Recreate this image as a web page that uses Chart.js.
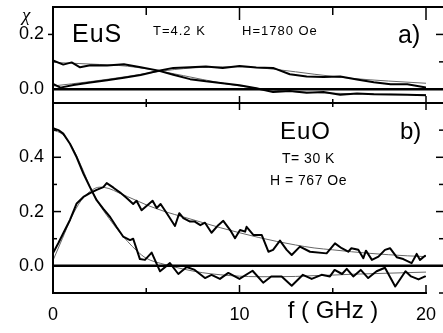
<!DOCTYPE html>
<html><head><meta charset="utf-8">
<script src="https://cdn.jsdelivr.net/npm/chart.js@4"></script>
<style>
html,body{margin:0;padding:0;background:#fff;width:443px;height:333px;overflow:hidden}
canvas{position:absolute;left:0;top:0}
</style></head>
<body>
<canvas id="c1" width="443" height="333"></canvas>
<canvas id="c2" width="443" height="333"></canvas>
<script>
// ---- Panel a) EuS ----
const euSDecF   = [0, 0.55, 1.0, 1.45, 2.0, 2.9, 3.8, 4.7, 5.6, 6.45, 7.35, 8.2, 9.1, 10.0, 10.9, 11.8, 12.7, 13.6, 14.5, 15.4, 16.3, 17.2, 18.1, 19.0, 20.0];
const euSDecChi = [0.105, 0.09, 0.098, 0.08, 0.088, 0.087, 0.091, 0.08, 0.069, 0.053, 0.037, 0.029, 0.022, 0.015, 0.004, -0.01, -0.006, -0.013, -0.01, -0.02, -0.015, -0.018, -0.019, -0.02, -0.022];
const euSIncF   = [0, 0.4, 1.1, 2.0, 2.9, 3.8, 4.7, 5.6, 6.45, 7.35, 8.2, 9.1, 10.0, 10.9, 11.8, 12.7, 13.6, 14.5, 15.4, 16.3, 17.2, 18.1, 19.0, 20.0];
const euSIncChi = [0.02, 0.006, 0.016, 0.025, 0.033, 0.042, 0.052, 0.067, 0.078, 0.08, 0.083, 0.078, 0.085, 0.079, 0.078, 0.055, 0.047, 0.045, 0.047, 0.036, 0.026, 0.018, 0.018, 0.006];
const euSFitF    = [0, 2, 4, 6, 8, 10, 12, 14, 16, 18, 20];
const euSDecFit  = [0.098, 0.092, 0.084, 0.063, 0.036, 0.012, -0.004, -0.012, -0.016, -0.018, -0.02];
const euSIncFit  = [0.012, 0.028, 0.047, 0.068, 0.08, 0.082, 0.072, 0.055, 0.04, 0.03, 0.022];

// ---- Panel b) EuO ----
const euODecF   = [0, 0.29, 0.55, 0.91, 1.27, 1.63, 1.98, 2.34, 2.7, 3.06, 3.4, 3.76, 4.13, 4.3, 4.66, 4.93, 5.29, 5.74, 6.27, 6.72, 7.17, 7.6, 8.15, 8.5, 8.95, 9.4, 10.0, 10.7, 11.27, 11.7, 12.26, 12.8, 13.4, 13.87, 14.4, 14.85, 15.1, 15.5, 15.75, 16.1, 16.5, 16.9, 17.35, 17.8, 18.35, 18.9, 19.2, 19.6, 19.95];
const euODecChi = [0.507, 0.5, 0.487, 0.45, 0.40, 0.34, 0.29, 0.242, 0.21, 0.18, 0.144, 0.108, 0.095, 0.1, 0.025, 0.022, 0.049, -0.02, 0.01, -0.03, -0.004, -0.015, -0.045, -0.033, -0.048, -0.026, -0.048, -0.018, -0.062, -0.039, -0.039, -0.073, -0.033, -0.048, -0.033, -0.039, -0.015, -0.03, -0.011, -0.039, -0.015, -0.045, -0.02, -0.007, -0.076, -0.02, -0.039, -0.05, -0.039];
const euOPeakF   = [0, 0.29, 0.55, 0.91, 1.27, 1.63, 1.98, 2.34, 2.7, 2.88, 3.24, 3.6, 3.95, 4.3, 4.48, 4.75, 5.34, 5.56, 5.77, 6.1, 6.54, 6.77, 6.99, 7.35, 7.6, 7.9, 8.15, 8.5, 8.86, 9.13, 9.5, 9.76, 10.03, 10.3, 10.38, 10.74, 11.19, 11.55, 11.8, 12.17, 12.53, 12.8, 13.24, 13.78, 14.67, 15.12, 15.48, 15.83, 16.0, 16.37, 16.64, 16.78, 17.1, 17.45, 17.8, 18.07, 18.43, 18.78, 19.23, 19.5, 19.68, 19.95];
const euOPeakChi = [0.047, 0.084, 0.12, 0.169, 0.23, 0.254, 0.268, 0.28, 0.29, 0.305, 0.288, 0.27, 0.25, 0.228, 0.24, 0.205, 0.24, 0.213, 0.228, 0.194, 0.147, 0.194, 0.176, 0.163, 0.163, 0.15, 0.159, 0.122, 0.15, 0.166, 0.132, 0.102, 0.132, 0.126, 0.144, 0.114, 0.114, 0.052, 0.059, 0.093, 0.059, 0.04, 0.071, 0.052, 0.046, 0.083, 0.065, 0.052, 0.065, 0.059, 0.028, 0.056, 0.022, 0.034, 0.059, 0.065, 0.032, 0.025, 0.01, 0.044, 0.022, 0.037];
const euOFitF    = [0, 0.5, 1, 1.5, 2, 2.5, 3, 3.5, 4, 4.5, 5, 6, 7, 8, 9, 10, 11, 12, 13, 14, 15, 16, 17, 18, 19, 20];
const euODecFit  = [0.5, 0.485, 0.44, 0.37, 0.29, 0.225, 0.175, 0.13, 0.09, 0.055, 0.028, 0.005, -0.012, -0.025, -0.033, -0.038, -0.04, -0.04, -0.039, -0.036, -0.034, -0.031, -0.029, -0.027, -0.025, -0.023];
const euOPeakFit = [0.02, 0.1, 0.18, 0.24, 0.275, 0.29, 0.285, 0.27, 0.255, 0.24, 0.225, 0.2, 0.18, 0.16, 0.14, 0.122, 0.105, 0.09, 0.077, 0.066, 0.059, 0.052, 0.046, 0.041, 0.037, 0.034];

// ---- ticks ----
const xTickLabels   = [0, 10, 20];
const xMajorTicks   = [10, 20];
const xMinorTicks   = [5, 15];
const yTicksA       = [0, 0.2];
const yMinorA       = [0.1];
const yTicksB       = [0, 0.2, 0.4];
const yMinorB       = [-0.1, 0.1, 0.3, 0.5];

const FONT = "'Liberation Sans', Arial, sans-serif";
const pts = (xs, ys) => xs.map((x, i) => ({x, y: ys[i]}));

function dataDs(xs, ys) {
  return {data: pts(xs, ys), borderColor: '#000', borderWidth: 2, pointRadius: 0,
          tension: 0, borderJoinStyle: 'round', borderCapStyle: 'round', order: 0};
}
function fitDs(xs, ys) {
  return {data: pts(xs, ys), borderColor: '#666', borderWidth: 1, pointRadius: 0,
          cubicInterpolationMode: 'monotone', order: 1};
}

function line(ctx, x1, y1, x2, y2, w) {
  ctx.beginPath(); ctx.lineWidth = w; ctx.strokeStyle = '#000';
  ctx.moveTo(x1, y1); ctx.lineTo(x2, y2); ctx.stroke();
}
function text(ctx, s, x, y, size, opts = {}) {
  ctx.save();
  ctx.fillStyle = '#000';
  ctx.font = (opts.style || '') + ' ' + size + 'px ' + (opts.family || FONT);
  ctx.textAlign = opts.align || 'left';
  ctx.textBaseline = 'alphabetic';
  if (opts.ls) ctx.letterSpacing = opts.ls + 'px';
  ctx.fillText(s, x, y);
  ctx.restore();
}

function yScaleOpts(min, max, ticks) {
  return {
    type: 'linear', position: 'left', min, max,
    grid: {display: false, drawTicks: false}, border: {display: false},
    ticks: {color: '#000', font: {family: FONT, size: 18}, padding: 9,
            callback: v => Number(v).toFixed(1)},
    afterBuildTicks: s => { s.ticks = ticks.map(v => ({value: v})); },
    afterFit: s => { s.width = 53; s.paddingTop = 0; s.paddingBottom = 0; }
  };
}

const W = 443;

// ---------- Chart a) ----------
const deco1 = {
  id: 'deco1',
  afterDraw(chart) {
    const {ctx, chartArea: a, scales: {x, y}} = chart;
    ctx.save();
    ctx.lineCap = 'butt';
    line(ctx, a.left, a.top, W, a.top, 2);            // top border
    line(ctx, a.left, a.top - 1, a.left, a.bottom, 2); // left border
    line(ctx, a.left, y.getPixelForValue(0), W, y.getPixelForValue(0), 2.5);
    line(ctx, a.left, a.bottom, W, a.bottom, 2);      // lower border
    xMajorTicks.forEach(v => { const p = x.getPixelForValue(v);
      line(ctx, p, a.top, p, a.top + 13, 1.5);
      line(ctx, p, a.bottom - 7, p, a.bottom + 7, 1.5); });
    xMinorTicks.forEach(v => { const p = x.getPixelForValue(v);
      line(ctx, p, a.top, p, a.top + 8, 1.5);
      line(ctx, p, a.bottom - 4, p, a.bottom + 4, 1.5); });
    yTicksA.forEach(v => { if (v === 0) return; const p = y.getPixelForValue(v);
      line(ctx, a.left - 5, p, a.left, p, 1.5);
      line(ctx, W - 7, p, W, p, 1.5); });
    yMinorA.forEach(v => { const p = y.getPixelForValue(v);
      line(ctx, W - 4, p, W, p, 1.5); });
    text(ctx, 'χ', 22, 21, 19, {style: 'italic', family: "'Liberation Serif', serif"});
    text(ctx, 'EuS', 72, 42, 25, {ls: 1});
    text(ctx, 'T=4.2 K', 153, 35, 13, {ls: 1});
    text(ctx, 'H=1780 Oe', 242, 35, 13, {ls: 1});
    text(ctx, 'a)', 398, 43, 25);
    ctx.restore();
  }
};

new Chart(document.getElementById('c1'), {
  type: 'line',
  data: {datasets: [
    dataDs(euSDecF, euSDecChi), dataDs(euSIncF, euSIncChi),
    fitDs(euSFitF, euSDecFit), fitDs(euSFitF, euSIncFit)
  ]},
  options: {
    responsive: false, animation: false, devicePixelRatio: 1,
    layout: {padding: {left: 0, top: 7, right: 17, bottom: 230}},
    plugins: {legend: {display: false}, tooltip: {enabled: false}},
    scales: {
      x: {type: 'linear', min: 0, max: 20, display: false},
      y: yScaleOpts(-0.05, 0.3, yTicksA)
    }
  },
  plugins: [deco1]
});

// ---------- Chart b) ----------
const deco2 = {
  id: 'deco2',
  afterDraw(chart) {
    const {ctx, chartArea: a, scales: {x, y}} = chart;
    ctx.save();
    ctx.lineCap = 'butt';
    line(ctx, a.left, a.top, a.left, a.bottom + 1, 2);     // left border
    line(ctx, a.left, y.getPixelForValue(0), W, y.getPixelForValue(0), 2.5);
    line(ctx, a.left, a.bottom, a.right + 1, a.bottom, 2);  // bottom axis
    xMajorTicks.forEach(v => { const p = x.getPixelForValue(v);
      line(ctx, p, a.bottom - 8, p, a.bottom, 1.5); });
    xMinorTicks.forEach(v => { const p = x.getPixelForValue(v);
      line(ctx, p, a.bottom - 5, p, a.bottom, 1.5); });
    yTicksB.forEach(v => { if (v === 0) return; const p = y.getPixelForValue(v);
      line(ctx, a.left, p, a.left + 8, p, 1.5);
      line(ctx, W - 7, p, W, p, 1.5); });
    yMinorB.forEach(v => { const p = y.getPixelForValue(v);
      if (v > -0.1) line(ctx, a.left, p, a.left + 4, p, 1.5);
      line(ctx, W - 4, p, W, p, 1.5); });
    text(ctx, 'EuO', 280, 139, 24, {ls: 1});
    text(ctx, 'b)', 400, 139, 24);
    text(ctx, 'T= 30 K', 282, 163, 14, {ls: 0.5});
    text(ctx, 'H = 767 Oe', 270, 185, 14, {ls: 0.5});
    text(ctx, 'f ( GHz )', 333, 318, 24, {align: 'center'});
    ctx.restore();
  }
};

new Chart(document.getElementById('c2'), {
  type: 'line',
  data: {datasets: [
    dataDs(euODecF, euODecChi), dataDs(euOPeakF, euOPeakChi),
    fitDs(euOFitF, euODecFit), fitDs(euOFitF, euOPeakFit)
  ]},
  options: {
    responsive: false, animation: false, devicePixelRatio: 1,
    layout: {padding: {left: 0, top: 103, right: 17, bottom: 0}},
    plugins: {legend: {display: false}, tooltip: {enabled: false}},
    scales: {
      x: {type: 'linear', position: 'bottom', min: 0, max: 20,
          grid: {display: false, drawTicks: false}, border: {display: false},
          ticks: {color: '#000', font: {family: FONT, size: 18}, padding: 11, maxRotation: 0,
                  callback: v => String(v)},
          afterBuildTicks: s => { s.ticks = xTickLabels.map(v => ({value: v})); },
          afterFit: s => { s.height = 40; s.paddingLeft = 0; s.paddingRight = 0; }},
      y: yScaleOpts(-0.1, 0.6, yTicksB)
    }
  },
  plugins: [deco2]
});
</script>
</body></html>
